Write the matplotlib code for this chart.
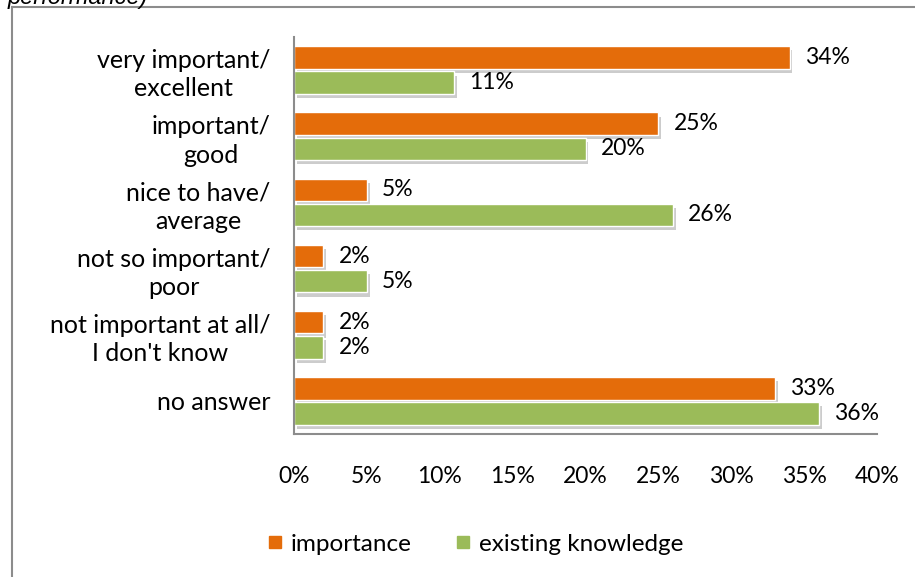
import numpy as np
import matplotlib.pyplot as plt
import matplotlib.patheffects as pe
from matplotlib.lines import Line2D

categories = ['very important/\nexcellent', 'important/\ngood', 'nice to have/\naverage',
              'not so important/\npoor', 'not important at all/\nI don\'t know', 'no answer']
importance = [34, 25, 5, 2, 2, 33]
knowledge = [11, 20, 26, 5, 2, 36]
xticks = [0, 5, 10, 15, 20, 25, 30, 35, 40]

orange = '#E46C0A'
green = '#9BBB59'
axis_grey = '#8C8C8C'

plt.rcParams['font.family'] = ['Lato', 'DejaVu Sans']

fig = plt.figure(figsize=(9.15, 5.77), dpi=100)
ax = fig.add_axes([0.3213, 0.2478, 0.6372, 0.6881])

y = np.arange(len(categories))
shadow = [pe.SimplePatchShadow(offset=(2, -3), shadow_rgbFace='#808080', alpha=0.4), pe.Normal()]

b1 = ax.barh(y - 0.19, importance, height=0.34, color=orange, edgecolor='white', linewidth=1)
b2 = ax.barh(y + 0.19, knowledge, height=0.34, color=green, edgecolor='white', linewidth=1)
for bar in list(b1) + list(b2):
    bar.set_path_effects(shadow)

for bars, vals in ((b1, importance), (b2, knowledge)):
    for bar, v in zip(bars, vals):
        ax.annotate(f'{v}%', (v, bar.get_y() + bar.get_height() / 2),
                    xytext=(11, 0), textcoords='offset points',
                    va='center', ha='left', fontsize=16.5, color='black')

ax.set_xlim(0, 40)
ax.set_ylim(len(categories) - 0.5, -0.5)
ax.set_xticks(xticks)
ax.set_xticklabels([f'{t}%' for t in xticks], fontsize=16.5)
ax.set_yticks(y)
ax.set_yticklabels(categories, fontsize=18, ha='right', multialignment='center',
                   linespacing=1.28)
ax.tick_params(axis='y', length=0, pad=17)
ax.tick_params(axis='x', length=0, pad=23)

for side in ('top', 'right'):
    ax.spines[side].set_visible(False)
for side in ('left', 'bottom'):
    ax.spines[side].set_color(axis_grey)
    ax.spines[side].set_linewidth(1.5)

# outer frame of the chart area
fig.add_artist(Line2D([12 / 915, 1], [1 - 7 / 577, 1 - 7 / 577], color=axis_grey, lw=1.5))
fig.add_artist(Line2D([12 / 915, 12 / 915], [0, 1 - 7 / 577], color=axis_grey, lw=1.5))

fig.text(8 / 915, 1 - 4 / 577, 'performance)', style='italic', fontsize=17,
         family='Liberation Sans', va='baseline', ha='left')

handles = [Line2D([], [], marker='s', linestyle='none', markersize=9, color=orange),
           Line2D([], [], marker='s', linestyle='none', markersize=9, color=green)]
fig.legend(handles, ['importance', 'existing knowledge'], loc='center',
           bbox_to_anchor=(0.517, 0.057), ncol=2, frameon=False, fontsize=17.5,
           handletextpad=0.15, columnspacing=1.6, handlelength=1.0)

fig.savefig('out.png', dpi=100)
